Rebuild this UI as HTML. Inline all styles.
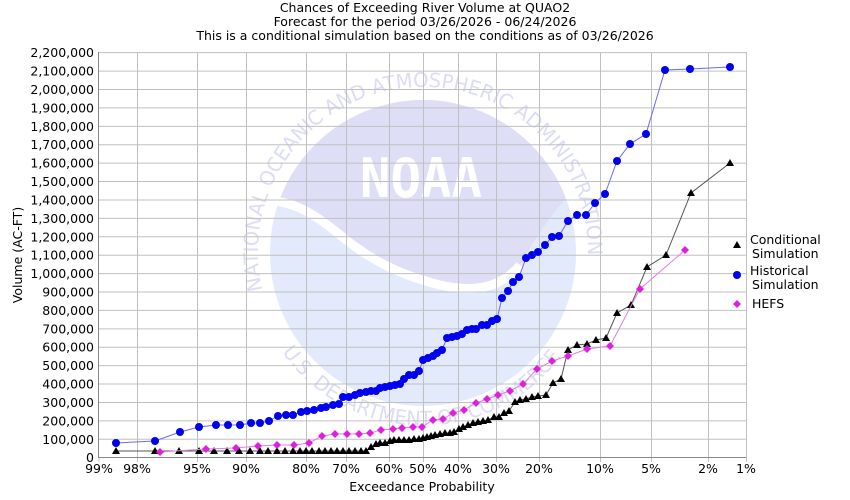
<!DOCTYPE html>
<html><head><meta charset="utf-8"><style>
html,body{margin:0;padding:0;background:#fff;}
svg{display:block;font-family:"DejaVu Sans","Liberation Sans",sans-serif;}
</style></head><body>
<svg id="s" width="850" height="500" viewBox="0 0 850 500" xmlns="http://www.w3.org/2000/svg">
<defs><clipPath id="cc"><circle cx="423" cy="253" r="153"/></clipPath>
<path id="ring" d="M 264 296 A 165 165 0 1 1 582 296"/>
<path id="ring2" d="M 282 352 A 172 172 0 0 0 564 352"/></defs>
<rect width="850" height="500" fill="#fff"/>
<g id="wm">
<circle cx="423" cy="253" r="153" fill="#e2eafb"/>
<path clip-path="url(#cc)" d="M260 90 L590 90 L590 175 C560 200 540 230 520 265 C500 290 470 292 440 285 C400 275 370 260 340 235 C310 210 290 200 260 200 Z" fill="#dedef7"/>
<path clip-path="url(#cc)" d="M260 200 C290 200 310 210 340 235 C370 260 400 275 440 285 C470 292 500 290 520 265" fill="none" stroke="#fff" stroke-width="9"/>
<text x="421" y="197" font-size="54" font-weight="bold" fill="#fff" text-anchor="middle" textLength="122" lengthAdjust="spacingAndGlyphs" font-family="DejaVu Sans Mono,monospace">NOAA</text>
<text font-size="20" fill="#dcdcf5"><textPath href="#ring" startOffset="1%" textLength="560" lengthAdjust="spacingAndGlyphs">NATIONAL OCEANIC AND ATMOSPHERIC ADMINISTRATION</textPath></text>
<text font-size="20" fill="#dcdcf5"><textPath href="#ring2" startOffset="0" textLength="325" lengthAdjust="spacingAndGlyphs">U.S. DEPARTMENT OF COMMERCE</textPath></text>
</g>
<g id="grid" stroke="#c0c0c0" stroke-width="1"></g>
<g id="axes" stroke="#888" stroke-width="1"><line x1="98.5" y1="52" x2="98.5" y2="458"/><line x1="98" y1="457.5" x2="746" y2="457.5"/></g>
<g id="lab" font-size="12.5" fill="#000"></g>
<g id="ser"></g>
<g font-size="12.5" fill="#000" text-anchor="middle">
<text x="425" y="12">Chances of Exceeding River Volume at QUAO2</text>
<text x="425" y="26">Forecast for the period 03/26/2026 - 06/24/2026</text>
<text x="425" y="40">This is a conditional simulation based on the conditions as of 03/26/2026</text>
<text x="422" y="491">Exceedance Probability</text>
<text transform="translate(22,255) rotate(-90)">Volume (AC-FT)</text>
</g>
<g font-size="12.5" fill="#000">
<polygon points="737,241 741,248 733,248" fill="#000"/>
<text x="750" y="244">Conditional</text><text x="752" y="258">Simulation</text>
<circle cx="737" cy="275" r="4" fill="#0000ee"/>
<text x="750" y="275">Historical</text><text x="752" y="289">Simulation</text>
<polygon points="737,300 741,304 737,308 733,304" fill="#e01ee0"/>
<text x="752" y="308">HEFS</text>
</g>
</svg>
<script>
var NS="http://www.w3.org/2000/svg";
function el(p,t,a,txt){var e=document.createElementNS(NS,t);for(var k in a)e.setAttribute(k,a[k]);if(txt!=null)e.textContent=txt;p.appendChild(e);return e;}
var g=document.getElementById('grid'),lab=document.getElementById('lab'),ser=document.getElementById('ser');
for(var k=0;k<=22;k++){var y=457.7-18.41*k;if(k>0)el(g,'line',{x1:98,x2:746,y1:y,y2:y});
var v=(k*100000).toLocaleString('en-US');el(lab,'text',{x:94,y:y+4.5,'text-anchor':'end'},v);}
var xs=[[99,'99%'],[137,'98%'],[197,'95%'],[246,'90%'],[306,'80%'],[346,'70%'],[389,'60%'],[423,'50%'],[458,'40%'],[496,'30%'],[539,'20%'],[600,'10%'],[651,'5%'],[708,'2%'],[746,'1%']];
xs.forEach(function(a){if(a[0]>99)el(g,'line',{x1:a[0]+.5,x2:a[0]+.5,y1:52,y2:462});else el(g,'line',{x1:99,x2:99,y1:457,y2:462});el(lab,'text',{x:a[0],y:473,'text-anchor':'middle'},a[1]);});
var blue=[[116,443],[155,441],[180,432],[199,427],[216,425],[228,425],[240,425],[251,423],[260,423],[269,421],[278,416],[286,415],[293,415],[301,412],[307,411],[314,410],[321,408],[326,407],[333,405],[339,404],[343,397],[349,397],[355,395],[360,393],[366,392],[371,391],[376,391],[380,388],[385,387],[390,386],[395,385],[400,384],[404,379],[409,375],[414,375],[419,371],[423,360],[428,358],[433,356],[437,353],[442,350],[447,338],[452,337],[457,336],[462,334],[467,330],[472,329],[476,329],[482,325],[487,325],[492,321],[497,319],[502,298],[508,291],[513,282],[519,277],[526,258],[532,255],[538,252],[545,245],[552,237],[559,236],[568,221],[577,215],[586,215],[595,203],[605,194],[617,161],[630,144],[646,134],[665,70],[690,69],[730,67]];
var black=[[116,451],[155,451],[179,451],[199,451],[214,451],[227,451],[239,451],[250,451],[260,451],[268,451],[277,451],[285,451],[293,451],[300,451],[306,451],[312,451],[319,451],[325,451],[331,451],[337,451],[343,451],[349,451],[355,451],[361,451],[366,451],[371,447],[376,444],[380,443],[385,443],[390,441],[394,440],[399,440],[404,440],[409,440],[414,439],[419,439],[423,438],[427,437],[431,436],[435,435],[440,434],[445,433],[450,433],[454,432],[459,429],[463,427],[468,425],[473,423],[478,422],[483,421],[488,420],[494,417],[499,417],[504,413],[509,411],[515,402],[520,400],[526,399],[532,397],[538,396],[546,395],[553,383],[561,379],[568,350],[577,345],[587,344],[596,340],[606,338],[617,313],[631,305],[647,267],[666,255],[691,193],[730,163]];
var mag=[[160,452],[206,449],[236,448],[258,446],[277,445],[294,445],[309,443],[322,436],[335,434],[347,434],[359,434],[370,433],[381,430],[393,429],[402,428],[413,427],[422,427],[433,420],[443,419],[453,413],[464,410],[476,403],[487,399],[498,395],[510,391],[523,384],[537,369],[552,361],[568,356],[587,349],[610,346],[640,289],[685,250]];
function series(pts,lc,fc,shape){el(ser,'polyline',{points:pts.map(function(p){return p.join(',')}).join(' '),fill:'none',stroke:lc,'stroke-width':1});
pts.forEach(function(p){var x=p[0],y=p[1];if(shape=='c')el(ser,'circle',{cx:x,cy:y,r:4,fill:fc});
else if(shape=='t')el(ser,'polygon',{points:(x)+','+(y-4)+' '+(x+4)+','+(y+3)+' '+(x-4)+','+(y+3),fill:fc});
else el(ser,'polygon',{points:x+','+(y-4)+' '+(x+4)+','+y+' '+x+','+(y+4)+' '+(x-4)+','+y,fill:fc});});}
series(black,'#555','#000','t');
series(blue,'#6a6af5','#0000ee','c');
series(mag,'#e080e0','#e01ee0','d');
</script>
</body></html>
